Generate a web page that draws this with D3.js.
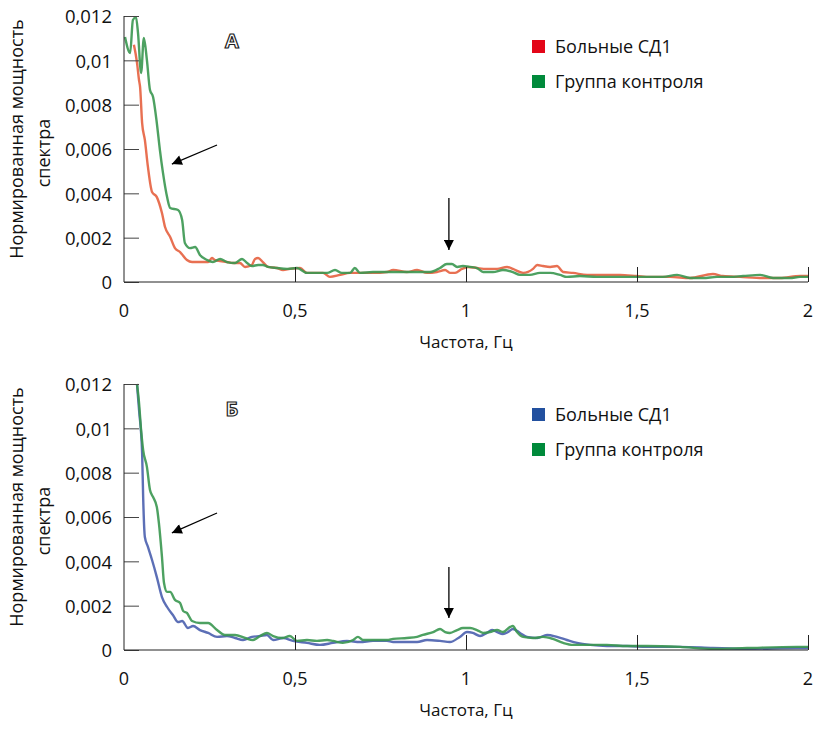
<!DOCTYPE html>
<html>
<head>
<meta charset="utf-8">
<script src="https://cdn.jsdelivr.net/npm/d3@7"></script>
<style>
  body { margin: 0; background: #fff; }
  svg { display: block; font-family: "Open Sans", "Noto Sans", sans-serif; }
</style>
</head>
<body>
<svg id="chart" width="814" height="729"></svg>
<script>
// tick values and labels
const xTicks = [0, 0.5, 1, 1.5, 2];
const xTickLabels = ["0", "0,5", "1", "1,5", "2"];
const yTicks = [0, 0.002, 0.004, 0.006, 0.008, 0.01, 0.012];
const yTickLabels = ["0", "0,002", "0,004", "0,006", "0,008", "0,01", "0,012"];

// panel A: patients (red)
const freqA_sd = [0.029, 0.038, 0.044, 0.047, 0.053, 0.061, 0.070, 0.082, 0.096, 0.111, 0.120, 0.135, 0.149, 0.164, 0.184, 0.199, 0.222, 0.246, 0.257, 0.266, 0.281, 0.301, 0.319, 0.339, 0.354, 0.374, 0.383, 0.392, 0.406, 0.421, 0.447, 0.465, 0.485, 0.515, 0.535, 0.564, 0.582, 0.602, 0.632, 0.661, 0.690, 0.728, 0.769, 0.787, 0.827, 0.857, 0.886, 0.915, 0.939, 0.953, 0.968, 0.988, 1.006, 1.032, 1.061, 1.091, 1.120, 1.137, 1.167, 1.196, 1.208, 1.225, 1.246, 1.266, 1.284, 1.313, 1.354, 1.401, 1.450, 1.500, 1.538, 1.596, 1.655, 1.722, 1.751, 1.801, 1.868, 1.918, 1.977, 2.0];
const powA_sd = [0.0107, 0.0099, 0.0091, 0.0088, 0.00717, 0.00641, 0.00519, 0.00406, 0.00383, 0.00311, 0.00248, 0.00203, 0.00153, 0.00135, 0.00099, 0.00090, 0.00090, 0.00090, 0.00108, 0.00099, 0.00095, 0.00090, 0.00086, 0.00086, 0.00068, 0.00077, 0.00104, 0.00108, 0.00090, 0.00068, 0.00063, 0.00054, 0.00059, 0.00063, 0.00041, 0.00041, 0.00041, 0.00023, 0.00032, 0.00041, 0.00041, 0.00041, 0.00045, 0.00054, 0.00045, 0.00054, 0.00041, 0.00045, 0.00054, 0.00041, 0.00041, 0.00059, 0.00068, 0.00063, 0.00059, 0.00059, 0.00068, 0.00059, 0.00041, 0.00059, 0.00077, 0.00072, 0.00068, 0.00072, 0.00045, 0.00041, 0.00032, 0.00032, 0.00032, 0.00027, 0.00023, 0.00023, 0.00018, 0.00036, 0.00027, 0.00023, 0.00018, 0.00018, 0.00027, 0.00027];

// panel A: control group (green)
const freqA_ctl = [0.003, 0.018, 0.026, 0.035, 0.041, 0.050, 0.058, 0.067, 0.076, 0.085, 0.096, 0.105, 0.114, 0.126, 0.135, 0.158, 0.170, 0.178, 0.193, 0.208, 0.222, 0.243, 0.260, 0.281, 0.301, 0.325, 0.345, 0.360, 0.374, 0.392, 0.406, 0.421, 0.447, 0.477, 0.506, 0.535, 0.573, 0.594, 0.617, 0.637, 0.661, 0.675, 0.690, 0.728, 0.769, 0.787, 0.827, 0.865, 0.895, 0.924, 0.944, 0.959, 0.974, 0.991, 1.012, 1.032, 1.050, 1.079, 1.108, 1.137, 1.158, 1.187, 1.216, 1.246, 1.275, 1.295, 1.333, 1.383, 1.430, 1.480, 1.538, 1.576, 1.617, 1.655, 1.693, 1.734, 1.772, 1.810, 1.860, 1.898, 1.947, 1.977, 2.0];
const powA_ctl = [0.01105, 0.01033, 0.01182, 0.01195, 0.01123, 0.00943, 0.01101, 0.01001, 0.00866, 0.00835, 0.00717, 0.00595, 0.00492, 0.00383, 0.00334, 0.00325, 0.00280, 0.00176, 0.00153, 0.00158, 0.00122, 0.00099, 0.00090, 0.00104, 0.00090, 0.00086, 0.00104, 0.00086, 0.00072, 0.00077, 0.00077, 0.00068, 0.00063, 0.00059, 0.00063, 0.00041, 0.00041, 0.00041, 0.00054, 0.00041, 0.00041, 0.00063, 0.00041, 0.00045, 0.00045, 0.00045, 0.00045, 0.00045, 0.00045, 0.00063, 0.00081, 0.00081, 0.00068, 0.00072, 0.00068, 0.00063, 0.00045, 0.00045, 0.00054, 0.00045, 0.00032, 0.00032, 0.00041, 0.00041, 0.00032, 0.00023, 0.00027, 0.00023, 0.00023, 0.00023, 0.00023, 0.00023, 0.00032, 0.00018, 0.00018, 0.00023, 0.00023, 0.00027, 0.00032, 0.00018, 0.00018, 0.00023, 0.00023];

// panel Б: patients (blue)
const freqB_sd = [0.038, 0.044, 0.053, 0.056, 0.061, 0.070, 0.082, 0.096, 0.111, 0.126, 0.143, 0.158, 0.170, 0.187, 0.202, 0.222, 0.246, 0.272, 0.301, 0.325, 0.348, 0.374, 0.398, 0.418, 0.436, 0.465, 0.494, 0.535, 0.573, 0.611, 0.652, 0.690, 0.728, 0.769, 0.787, 0.827, 0.857, 0.886, 0.924, 0.953, 0.982, 1.003, 1.020, 1.041, 1.061, 1.076, 1.091, 1.108, 1.123, 1.137, 1.158, 1.178, 1.208, 1.237, 1.266, 1.295, 1.325, 1.363, 1.412, 1.471, 1.529, 1.626, 1.722, 1.822, 1.968, 2.0];
const powB_sd = [0.0120, 0.01083, 0.00889, 0.00690, 0.00510, 0.00465, 0.00406, 0.00329, 0.00239, 0.00194, 0.00158, 0.00126, 0.00131, 0.00099, 0.00108, 0.00090, 0.00077, 0.00059, 0.00063, 0.00054, 0.00045, 0.00059, 0.00063, 0.00068, 0.00045, 0.00054, 0.00041, 0.00032, 0.00023, 0.00032, 0.00041, 0.00036, 0.00041, 0.00041, 0.00036, 0.00036, 0.00036, 0.00045, 0.00041, 0.00036, 0.00059, 0.00081, 0.00077, 0.00063, 0.00077, 0.00090, 0.00081, 0.00072, 0.00081, 0.00095, 0.00077, 0.00059, 0.00054, 0.00068, 0.00059, 0.00045, 0.00032, 0.00023, 0.00018, 0.00018, 0.00014, 0.00014, 0.00009, 0.00005, 0.00009, 0.00009];

// panel Б: control group (green)
const freqB_ctl = [0.038, 0.044, 0.050, 0.056, 0.067, 0.076, 0.085, 0.096, 0.102, 0.111, 0.117, 0.126, 0.135, 0.149, 0.164, 0.173, 0.184, 0.199, 0.222, 0.246, 0.272, 0.295, 0.325, 0.354, 0.377, 0.398, 0.418, 0.436, 0.462, 0.485, 0.506, 0.535, 0.564, 0.594, 0.611, 0.640, 0.670, 0.684, 0.699, 0.728, 0.769, 0.787, 0.827, 0.857, 0.874, 0.904, 0.924, 0.939, 0.953, 0.974, 0.991, 1.012, 1.032, 1.050, 1.070, 1.091, 1.108, 1.129, 1.137, 1.149, 1.167, 1.196, 1.225, 1.254, 1.284, 1.313, 1.354, 1.412, 1.471, 1.529, 1.626, 1.722, 1.822, 1.968, 2.0];
const powB_ctl = [0.0120, 0.01114, 0.00992, 0.00902, 0.00826, 0.00722, 0.00690, 0.00645, 0.00573, 0.00420, 0.00302, 0.00262, 0.00262, 0.00226, 0.00212, 0.00176, 0.00167, 0.00131, 0.00122, 0.00122, 0.00090, 0.00068, 0.00068, 0.00054, 0.00045, 0.00063, 0.00077, 0.00063, 0.00054, 0.00063, 0.00041, 0.00045, 0.00041, 0.00045, 0.00041, 0.00032, 0.00045, 0.00059, 0.00045, 0.00045, 0.00045, 0.00050, 0.00054, 0.00059, 0.00068, 0.00081, 0.00095, 0.00081, 0.00077, 0.00090, 0.00099, 0.00099, 0.00090, 0.00077, 0.00081, 0.00090, 0.00081, 0.00104, 0.00108, 0.00081, 0.00059, 0.00054, 0.00059, 0.00050, 0.00032, 0.00023, 0.00023, 0.00023, 0.00018, 0.00018, 0.00014, 0.00005, 0.00009, 0.00014, 0.00014];

// arrows: [x1, y1, x2 (tip), y2 (tip)] in data units
const arrowsA = [[0.272, 0.00618, 0.140, 0.00532], [0.950, 0.00379, 0.950, 0.00144]];
const arrowsB = [[0.272, 0.00618, 0.140, 0.00528], [0.950, 0.00374, 0.950, 0.00144]];

const legendNames = ["Больные СД1", "Группа контроля"];

const svg = d3.select("#chart");
const plotLeft = 124, plotW = 684, plotH = 266;

svg.append("defs").append("marker")
  .attr("id", "head")
  .attr("viewBox", "0 0 10 10")
  .attr("refX", 10).attr("refY", 5)
  .attr("markerWidth", 11).attr("markerHeight", 10)
  .attr("markerUnits", "userSpaceOnUse")
  .attr("orient", "auto")
  .append("path").attr("d", "M0,0 L10,5 L0,10 Z").attr("fill", "#000");

function drawPanel(top, letter, series, arrows) {
  const g = svg.append("g").attr("transform", "translate(" + plotLeft + "," + top + ")");
  const x = d3.scaleLinear().domain([0, 2]).range([0, plotW]);
  const y = d3.scaleLinear().domain([0, 0.012]).range([plotH, 0]);

  // curves
  const line = d3.line().x(d => x(d[0])).y(d => y(d[1])).curve(d3.curveMonotoneX);
  series.forEach(s => {
    const pts = s.freq.map((f, i) => [f, s.pow[i]]);
    g.append("path")
      .attr("d", line(pts))
      .attr("fill", "none")
      .attr("stroke", s.line)
      .attr("stroke-width", 2.4)
      .attr("stroke-linejoin", "round")
      .attr("opacity", 0.9);
  });

  // y axis: ticks point inward
  const yAxis = d3.axisRight(y).tickValues(yTicks).tickSize(15).tickFormat("");
  g.append("g").call(yAxis)
    .call(a => a.select(".domain").remove())
    .selectAll("line").attr("stroke", "#444");
  g.selectAll(".ylab").data(yTicks).join("text")
    .attr("x", -12).attr("y", d => y(d) + 1).attr("dy", "0.35em")
    .attr("text-anchor", "end").attr("font-size", 18.5).attr("fill", "#111")
    .text((d, i) => yTickLabels[i]);

  // x axis: ticks point up
  const xAxis = d3.axisTop(x).tickValues(xTicks.slice(1)).tickSize(15).tickFormat("");
  g.append("g").attr("transform", "translate(0," + plotH + ")").call(xAxis)
    .call(a => a.select(".domain").remove())
    .selectAll("line").attr("stroke", "#222");
  g.selectAll(".xlab").data(xTicks).join("text")
    .attr("x", d => x(d)).attr("y", plotH + 35)
    .attr("text-anchor", "middle").attr("font-size", 18).attr("fill", "#111")
    .text((d, i) => xTickLabels[i]);

  g.append("line").attr("x1", 0).attr("x2", 0).attr("y1", 0).attr("y2", plotH).attr("stroke", "#222");
  g.append("line").attr("x1", 0).attr("x2", plotW).attr("y1", plotH).attr("y2", plotH).attr("stroke", "#222");

  g.append("text")
    .attr("x", plotW / 2).attr("y", plotH + 66)
    .attr("text-anchor", "middle").attr("font-size", 17).attr("fill", "#111")
    .text("Частота, Гц");

  g.append("text")
    .attr("transform", "translate(-101," + (plotH / 2 - 10) + ") rotate(-90)")
    .attr("text-anchor", "middle").attr("font-size", 18).attr("fill", "#111")
    .text("Нормированная мощность");
  g.append("text")
    .attr("transform", "translate(-74," + (plotH / 2 + 4) + ") rotate(-90)")
    .attr("text-anchor", "middle").attr("font-size", 18).attr("fill", "#111")
    .text("спектра");

  // panel letter
  g.append("text")
    .attr("x", 108).attr("y", 32)
    .attr("text-anchor", "middle").attr("font-size", 20).attr("font-weight", "bold")
    .attr("fill", "#fff").attr("stroke", "#222").attr("stroke-width", 1.2)
    .text(letter);

  // legend
  const lg = g.append("g").attr("transform", "translate(408,24)");
  series.forEach((s, i) => {
    const row = lg.append("g").attr("transform", "translate(0," + (i * 35) + ")");
    row.append("rect").attr("width", 13).attr("height", 13).attr("fill", s.key);
    row.append("text").attr("x", 23).attr("y", 6.5).attr("dy", "0.36em")
      .attr("font-size", 18).attr("fill", "#111")
      .text(legendNames[i]);
  });

  // arrows
  arrows.forEach(a => {
    g.append("line")
      .attr("x1", x(a[0])).attr("y1", y(a[1]))
      .attr("x2", x(a[2])).attr("y2", y(a[3]))
      .attr("stroke", "#000").attr("stroke-width", 1.3)
      .attr("marker-end", "url(#head)");
  });
}

drawPanel(16, "А", [
  { freq: freqA_sd, pow: powA_sd, line: "#e5603f", key: "#e30618" },
  { freq: freqA_ctl, pow: powA_ctl, line: "#3a9750", key: "#008a3b" }
], arrowsA);

drawPanel(384, "Б", [
  { freq: freqB_sd, pow: powB_sd, line: "#4a5fae", key: "#22509f" },
  { freq: freqB_ctl, pow: powB_ctl, line: "#3a9750", key: "#008a3b" }
], arrowsB);
</script>
</body>
</html>
